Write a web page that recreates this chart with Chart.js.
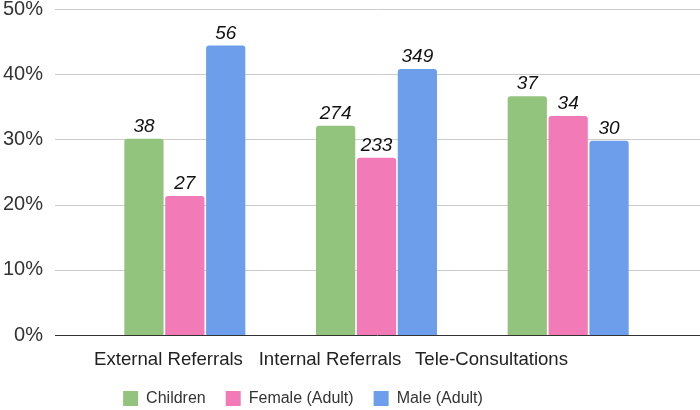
<!DOCTYPE html>
<html><head><meta charset="utf-8">
<script src="https://cdn.jsdelivr.net/npm/chart.js@4"></script>
<style>html,body{margin:0;padding:0;background:#fff}#wrap{width:700px;height:410px;position:relative}</style>
</head><body><div id="wrap"><canvas id="c"></canvas></div>
<script>
const categories = ["External Referrals", "Internal Referrals", "Tele-Consultations"];
const seriesNames = ["Children", "Female (Adult)", "Male (Adult)"];
const childrenPct = [30.1, 32.1, 36.6];
const femalePct = [21.3, 27.2, 33.6];
const malePct = [44.4, 40.8, 29.8];
const childrenCount = [38, 274, 37];
const femaleCount = [27, 233, 34];
const maleCount = [56, 349, 30];
const yTicks = [0, 10, 20, 30, 40, 50];
const colors = ["#93c47d", "#f27ab7", "#6d9eeb"];

const FONT = "'Liberation Sans', Arial, sans-serif";

const gridPlugin = {
  id: 'fullGrid',
  beforeDatasetsDraw(chart) {
    const ctx = chart.ctx, y = chart.scales.y;
    ctx.save();
    yTicks.forEach(v => {
      const py = Math.round(y.getPixelForValue(v)) + 0.5;
      ctx.beginPath();
      ctx.strokeStyle = v === 0 ? '#333333' : '#cccccc';
      ctx.lineWidth = 1;
      ctx.moveTo(55, py); ctx.lineTo(700, py);
      ctx.stroke();
    });
    ctx.restore();
  }
};

const labelPlugin = {
  id: 'barLabels',
  afterDatasetsDraw(chart) {
    const ctx = chart.ctx;
    const counts = [childrenCount, femaleCount, maleCount];
    ctx.save();
    ctx.font = "italic 19px " + FONT;
    ctx.fillStyle = '#111';
    ctx.textAlign = 'center';
    ctx.textBaseline = 'alphabetic';
    chart.data.datasets.forEach((ds, i) => {
      chart.getDatasetMeta(i).data.forEach((bar, j) => {
        ctx.fillText(String(counts[i][j]), bar.x, bar.y - 7);
      });
    });
    ctx.restore();
  }
};

const shiftLegend = {
  id: 'shiftLegend',
  afterLayout(chart) {
    const l = chart.legend;
    const center = (l.left + l.right) / 2;
    const d = 303 - center;
    l.left += d; l.right += d;
    l.top -= 4.5; l.bottom -= 4.5;
  }
};

new Chart(document.getElementById('c'), {
  type: 'bar',
  data: {
    labels: categories,
    datasets: [
      { label: seriesNames[0], data: childrenPct, backgroundColor: colors[0] },
      { label: seriesNames[1], data: femalePct, backgroundColor: colors[1] },
      { label: seriesNames[2], data: malePct, backgroundColor: colors[2] }
    ]
  },
  options: {
    responsive: true,
    maintainAspectRatio: false,
    animation: false,
    layout: { padding: { top: 9, right: 36, bottom: -11, left: 0 } },
    datasets: { bar: { categoryPercentage: 0.64, barPercentage: 0.96, borderRadius: { topLeft: 3, topRight: 3 }, borderSkipped: 'bottom' } },
    scales: {
      x: {
        afterFit(s) { s.height = 0; },
        grid: { display: false, drawTicks: false },
        border: { display: false },
        ticks: { display: false }
      },
      xl: {
        type: 'linear',
        position: 'bottom',
        offset: false,
        min: -0.4923, max: 3.068,
        afterFit(s) { s.height = 40; s.paddingLeft = 0; s.paddingRight = 0; },
        afterBuildTicks(s) { s.ticks = categories.map((c, i) => ({ value: i })); },
        grid: { display: false, drawTicks: false, offset: false },
        border: { display: false },
        ticks: { color: '#222', font: { family: FONT, size: 18.6 }, padding: 14, maxRotation: 0, autoSkip: false, callback: v => categories[v] }
      },
      y: {
        min: 0, max: 50,
        afterFit(s) { s.width = 89; s.paddingTop = 0; s.paddingBottom = 0; },
        afterBuildTicks(s) { s.ticks = yTicks.map(v => ({ value: v })); },
        grid: { display: false, drawTicks: false },
        border: { display: false },
        ticks: { color: '#333', font: { family: FONT, size: 20 }, padding: 46, callback: v => v + '%' }
      }
    },
    plugins: {
      legend: {
        position: 'bottom',
        labels: { boxWidth: 15, boxHeight: 15, padding: 20, color: '#333', font: { family: FONT, size: 16 } }
      },
      tooltip: { enabled: false }
    }
  },
  plugins: [gridPlugin, labelPlugin, shiftLegend]
});
</script></body></html>
